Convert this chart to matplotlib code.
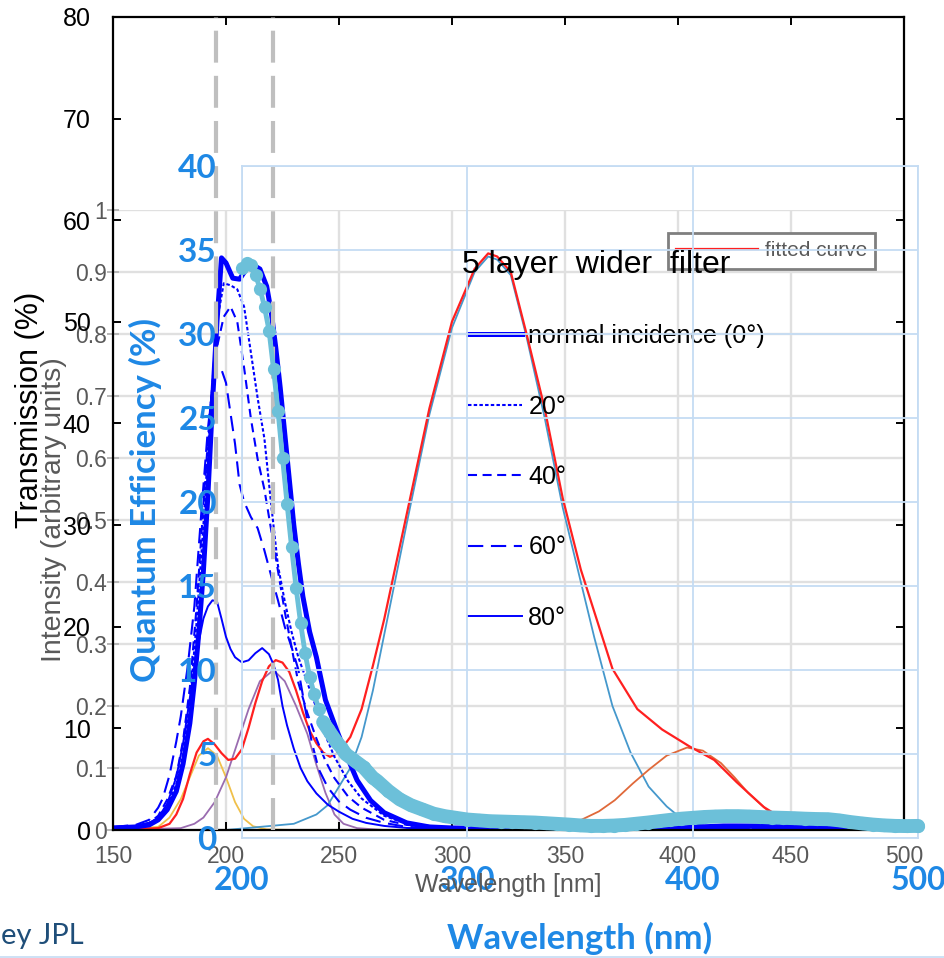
import matplotlib
matplotlib.use('Agg')
import matplotlib.pyplot as plt
from matplotlib.lines import Line2D

plt.rcParams['font.family'] = ['Liberation Sans', 'DejaVu Sans']
plt.rcParams['lines.scale_dashes'] = False

# ---------------- data ----------------
# Gaussian fit panel (intensity, arbitrary units)
wl_yel = [150, 170, 175, 180, 184, 188, 192, 196, 200, 204, 208, 212, 218, 230, 500]
i_yel = [0.0, 0.005, 0.02, 0.05, 0.085, 0.12, 0.132, 0.12, 0.085, 0.045, 0.018, 0.006, 0.001, 0.0, 0.0]

wl_pur = [150, 180, 186, 190, 195, 200, 205, 210, 215, 221, 226, 231, 236, 240, 244, 248, 252, 258, 270, 500]
i_pur = [0.0, 0.003, 0.01, 0.02, 0.045, 0.085, 0.14, 0.195, 0.24, 0.258, 0.24, 0.2, 0.155, 0.105, 0.06, 0.025, 0.01, 0.003, 0.0, 0.0]

wl_blu = [200, 230, 240, 245, 250, 255, 260, 265, 270, 280, 290, 300, 310, 316, 320, 326, 333, 341, 349, 357,
          363, 371, 379, 387, 395, 401, 410, 420, 440, 500]
i_blu = [0.0, 0.01, 0.025, 0.04, 0.07, 0.1, 0.15, 0.225, 0.315, 0.495, 0.67, 0.81, 0.9, 0.925, 0.92, 0.895, 0.795, 0.665, 0.52, 0.4,
         0.31, 0.2, 0.125, 0.07, 0.038, 0.02, 0.008, 0.003, 0.0, 0.0]

wl_org = [340, 350, 357, 365, 372, 380, 387, 395, 404, 411, 419, 425, 431, 437, 442, 451, 460, 470, 500]
i_org = [0.0, 0.006, 0.016, 0.03, 0.048, 0.075, 0.097, 0.12, 0.133, 0.128, 0.108, 0.085, 0.06, 0.04, 0.024, 0.008, 0.002, 0.0, 0.0]

wl_fit = [150, 170, 175, 178, 181, 184, 187, 190, 192, 195, 198, 201, 204, 207, 210, 213, 216, 219, 222, 225,
          228, 231, 234, 237, 240, 243, 246, 250, 255, 260, 265, 270, 280, 290, 300, 310, 316, 320, 326, 333,
          341, 349, 357, 364, 371, 382, 393, 405, 416, 426, 438, 445, 455, 470, 500]
i_fit = [0.0, 0.003, 0.01, 0.025, 0.05, 0.09, 0.125, 0.143, 0.147, 0.138, 0.124, 0.113, 0.115, 0.13, 0.165, 0.205, 0.24, 0.264, 0.274, 0.27,
         0.255, 0.225, 0.19, 0.16, 0.14, 0.125, 0.118, 0.125, 0.15, 0.195, 0.265, 0.34, 0.51, 0.68, 0.82, 0.905, 0.93, 0.925, 0.9, 0.8,
         0.68, 0.535, 0.42, 0.34, 0.26, 0.195, 0.162, 0.135, 0.113, 0.077, 0.037, 0.021, 0.008, 0.002, 0.0]

# Filter transmission (%) at several incidence angles
wl_0deg = [150, 160, 166, 170, 174, 178, 181, 184, 186, 188, 190, 192, 194, 196, 198, 200, 203, 206, 209, 212,
           215, 218, 220, 222, 224, 226, 228, 230, 232, 234, 237, 240, 244, 249, 254, 258, 264, 270, 280, 290,
           300, 380, 400, 420, 440, 460, 480, 500]
t_0deg = [0.2, 0.3, 0.5, 1.0, 2.0, 3.8, 6.5, 10.5, 14.5, 19.5, 25.5, 33, 42, 50, 56.3, 55.8, 54.3, 54.2, 55.2, 55.6,
          55.2, 53.5, 51, 47.5, 43.5, 39, 34.5, 30, 26.3, 23, 19.5, 17, 12.8, 9.8, 7, 4.9, 2.9, 1.7, 0.7, 0.3,
          0.2, 0.1, 0.2, 0.4, 0.4, 0.3, 0.1, 0.1]

wl_20deg = [150, 160, 166, 170, 174, 178, 181, 184, 187, 190, 193, 196, 199, 202, 205, 208, 211, 214, 217, 220,
            223, 226, 229, 232, 236, 240, 244, 248, 254, 260, 270, 280, 300, 400, 440, 500]
t_20deg = [0.2, 0.3, 0.6, 1.2, 2.5, 4.5, 7.5, 12.5, 20.5, 30, 41, 50, 53.8, 53.6, 53.2, 51.5, 47, 42.5, 38.5, 32,
           26, 22.5, 19.5, 17, 14.5, 12, 9.3, 7.2, 4.8, 3.1, 1.4, 0.6, 0.2, 0.1, 0.2, 0.1]

wl_40deg = [150, 160, 166, 170, 174, 178, 181, 184, 187, 190, 193, 196, 199, 202, 205, 208, 211, 214, 217, 220,
            223, 226, 229, 232, 236, 240, 244, 248, 254, 260, 270, 280, 300, 500]
t_40deg = [0.2, 0.4, 0.7, 1.4, 3.0, 5.3, 8.8, 14, 22, 32, 41.5, 47.5, 50.5, 51.5, 50, 45.5, 40.5, 36.5, 33.5, 29.5,
           25.5, 21.5, 18, 14.5, 11.5, 9, 6.8, 5.1, 3.3, 2.2, 1.0, 0.5, 0.2, 0.1]

wl_60deg = [150, 160, 166, 170, 172, 175, 178, 180, 183, 186, 189, 192, 194, 196, 198, 200, 202, 204, 206, 208,
            211, 214, 217, 220, 223, 226, 229, 232, 235, 238, 241, 245, 250, 255, 262, 270, 280, 300, 500]
t_60deg = [0.3, 0.5, 1.0, 2.2, 3.1, 5.4, 8.7, 11.2, 16, 22, 31, 39.5, 43.5, 45.5, 45.3, 44, 41, 38, 34, 32.3,
           30.8, 29.7, 27.5, 25, 22.6, 20, 18, 15.8, 12.0, 8.6, 6.0, 4.2, 2.8, 2.0, 1.2, 0.7, 0.3, 0.15, 0.1]

wl_80deg = [150, 160, 166, 170, 174, 178, 181, 184, 187, 190, 192, 194, 196, 198, 200, 202, 204, 207, 210, 213,
            216, 219, 221, 223, 225, 227, 230, 233, 236, 240, 245, 250, 256, 262, 270, 280, 300, 500]
t_80deg = [0.2, 0.4, 0.7, 1.2, 2.6, 5.2, 8.5, 13, 17.5, 20.8, 22, 22.6, 22.5, 20.8, 19, 17.8, 17, 16.5, 16.7, 17.4,
           17.9, 17.3, 16.3, 14.8, 12.2, 10.3, 8.0, 6.1, 4.8, 3.6, 2.5, 1.8, 1.1, 0.7, 0.4, 0.2, 0.1, 0.05]

angle_labels = ['normal incidence (0°)', '20°', '40°', '60°', '80°']

# Detector quantum efficiency (%)
wl_qe = [200, 202, 204, 206, 208, 210, 212, 214, 216, 218, 220, 222, 224, 226, 228, 230, 232, 234, 236, 238,
         240, 242, 244, 246, 248, 250, 252, 254, 256, 258, 260,
         265, 270, 275, 280, 285, 290, 295, 300, 305, 310, 315, 320, 325, 330, 335, 340, 345, 350, 355,
         360, 365, 370, 375, 380, 385, 390, 395, 400, 405, 410, 415, 420, 425, 430, 435, 440, 445, 450, 455,
         460, 465, 470, 475, 480, 485, 490, 495, 500]
qe = [33.9, 34.2, 34.1, 33.5, 32.7, 31.6, 30.2, 27.9, 25.4, 22.6, 19.9, 17.3, 14.9, 12.8, 11.0, 9.6, 8.6, 7.7, 6.9, 6.5,
      6.1, 5.7, 5.4, 5.0, 4.8, 4.6, 4.4, 4.2, 3.9, 3.6, 3.4,
      2.8, 2.3, 1.95, 1.7, 1.45, 1.3, 1.2, 1.1, 1.05, 1.0, 0.98, 0.96, 0.94, 0.92, 0.88, 0.84, 0.8, 0.75, 0.72,
      0.72, 0.74, 0.78, 0.85, 0.92, 1.0, 1.08, 1.15, 1.2, 1.25, 1.28, 1.3, 1.3, 1.28, 1.25, 1.22, 1.2, 1.18, 1.15, 1.13,
      1.12, 1.05, 0.95, 0.87, 0.8, 0.75, 0.72, 0.71, 0.72]

# peak markers (gray dashed lines)
peak_marks = [195.5, 220.8]

# ticks
nm_ticks = [150, 200, 250, 300, 350, 400, 450, 500]
int_ticks = [0, 0.1, 0.2, 0.3, 0.4, 0.5, 0.6, 0.7, 0.8, 0.9, 1.0]
int_labels = ['0', '0.1', '0.2', '0.3', '0.4', '0.5', '0.6', '0.7', '0.8', '0.9', '1']
trans_ticks = [0, 10, 20, 30, 40, 50, 60, 70, 80]
qe_xticks = [200, 300, 400, 500]
qe_yticks = [0, 5, 10, 15, 20, 25, 30, 35, 40]

# ---------------- figure ----------------
W, H = 945, 958
fig = plt.figure(figsize=(W / 100, H / 100), dpi=100)


def box(l, t, r, b):
    return [l / W, 1 - b / H, (r - l) / W, (b - t) / H]


gray_txt = '#595959'
qe_blue = '#1e88e5'
light_blue = '#c5dcf3'

# --- gaussian fit panel (gray) ---
ax_i = fig.add_axes(box(113, 210, 904, 830))
ax_i.set_xlim(150, 500)
ax_i.set_ylim(0, 1)
for s in ax_i.spines.values():
    s.set_visible(False)
ax_i.grid(True, color='#e0e0e0', lw=1.7)
ax_i.set_axisbelow(True)
ax_i.set_xticks(nm_ticks)
ax_i.tick_params(axis='x', length=0, pad=11, labelsize=16.5, labelcolor=gray_txt)
ax_i.set_yticks(int_ticks, labels=int_labels)
ax_i.tick_params(axis='y', direction='inout', length=9, width=1.4, color='#b5b5b5',
                 labelsize=16.5, labelcolor=gray_txt, pad=0)

ax_i.plot(wl_yel, i_yel, color='#f0c04a', lw=1.3)
ax_i.plot(wl_pur, i_pur, color='#9a6cb0', lw=1.3)
ax_i.plot(wl_blu, i_blu, color='#4598cc', lw=1.3)
ax_i.plot(wl_org, i_org, color='#e0693a', lw=1.3)
fit_line, = ax_i.plot(wl_fit, i_fit, color='#ff2020', lw=1.6, label='fitted curve')

leg_fit = ax_i.legend(handles=[fit_line], loc='upper left', bbox_to_anchor=(668 / W, 1 - 233 / H),
                      bbox_transform=fig.transFigure, fontsize=15, fancybox=False, framealpha=1,
                      edgecolor='#7f7f7f', borderpad=0.4, handlelength=3.9, handletextpad=0.35,
                      borderaxespad=0)
leg_fit.get_frame().set_linewidth(2)
for t in leg_fit.get_texts():
    t.set_color(gray_txt)

# --- transmission panel (black) ---
ax_t = fig.add_axes(box(113, 17, 904, 830))
ax_t.patch.set_alpha(0)
ax_t.set_xlim(150, 500)
ax_t.set_ylim(0, 80)
for s in ax_t.spines.values():
    s.set_linewidth(1.6)
    s.set_color('black')
ax_t.set_xticks(nm_ticks)
ax_t.tick_params(axis='x', direction='in', length=6, width=1.4, top=True, bottom=True,
                 labelbottom=False)
ax_t.set_yticks(trans_ticks, labels=[str(v) for v in trans_ticks])
ax_t.tick_params(axis='y', direction='in', length=6, width=1.4, left=True, right=True,
                 labelsize=18, pad=16)

curves = [
    (wl_0deg, t_0deg, dict(lw=3.6, ls='-')),
    (wl_20deg, t_20deg, dict(lw=1.5, ls=(0, (2.5, 1.6)))),
    (wl_40deg, t_40deg, dict(lw=1.5, ls=(0, (6.5, 4)))),
    (wl_60deg, t_60deg, dict(lw=1.5, ls=(0, (11, 5.5)))),
    (wl_80deg, t_80deg, dict(lw=1.4, ls='-')),
]
handles = []
for (x, y, st), lab in zip(curves, angle_labels):
    h, = ax_t.plot(x, y, color='#0000ff', label=lab, **st)
    handles.append(h)

for xm in peak_marks:
    ax_t.axvline(xm, color='#bfbfbf', lw=3, ls=(0, (23, 9.5)), zorder=4)

ax_t.legend(handles=handles, loc='center left', bbox_to_anchor=(468 / W, 1 - 477 / H),
            bbox_transform=fig.transFigure, frameon=False, fontsize=18, labelspacing=1.86,
            handlelength=2.16, handletextpad=0.25, borderpad=0, borderaxespad=0)

fig.text(462 / W, 1 - 265 / H, '5 layer  wider  filter', fontsize=23, va='center', ha='left')

# --- quantum efficiency panel (blue) ---
ax_q = fig.add_axes(box(242, 166, 918, 838))
ax_q.patch.set_alpha(0)
ax_q.set_xlim(200, 500)
ax_q.set_ylim(0, 40)
for s in ax_q.spines.values():
    s.set_color(light_blue)
    s.set_linewidth(1.3)
ax_q.grid(True, color=light_blue, lw=1.3)
ax_q.set_xticks(qe_xticks, labels=[str(v) for v in qe_xticks], fontsize=23,
                fontweight='bold', family='Lato', color=qe_blue)
ax_q.set_yticks(qe_yticks, labels=[str(v) for v in qe_yticks], fontsize=24,
                fontweight='bold', family='Lato', color=qe_blue)
ax_q.tick_params(axis='both', length=0)
ax_q.tick_params(axis='x', pad=20)
ax_q.tick_params(axis='y', pad=18)

# dense tail of the QE curve reads as a continuous band
tail = wl_qe.index(236)
ax_q.plot(wl_qe[tail:], qe[tail:], '-', color='#6cc0d9', lw=10, clip_on=False, zorder=5,
          solid_capstyle='round')
ax_q.plot(wl_qe, qe, '-o', color='#6cc0d9', lw=3.5, ms=9.5, mew=0, clip_on=False, zorder=5)

# --- axis titles ---
fig.text(30 / W, 1 - 410 / H, 'Transmission (%)', rotation=90, fontsize=22,
         ha='center', va='center')
fig.text(54 / W, 1 - 510 / H, 'Intensity (arbitrary units)', rotation=90, fontsize=20.5,
         color=gray_txt, ha='center', va='center')
fig.text(145 / W, 1 - 500 / H, 'Quantum Efficiency (%)', rotation=90, fontsize=25,
         fontweight='bold', family='Lato', color=qe_blue, ha='center', va='center')
fig.text(508 / W, 1 - 885 / H, 'Wavelength [nm]', fontsize=18, color=gray_txt,
         ha='center', va='center')
fig.text(580 / W, 1 - 938 / H, 'Wavelength (nm)', fontsize=25, fontweight='bold',
         family='Lato', color=qe_blue, ha='center', va='center')
fig.text(1 / W, 1 - 936 / H, 'ey JPL', fontsize=21, family='Lato', color='#1f4e79',
         ha='left', va='center')
fig.add_artist(Line2D([0, 1], [1 - 956.5 / H, 1 - 956.5 / H], transform=fig.transFigure,
                      color=light_blue, lw=1.2))

fig.savefig('out.png', dpi=100)
